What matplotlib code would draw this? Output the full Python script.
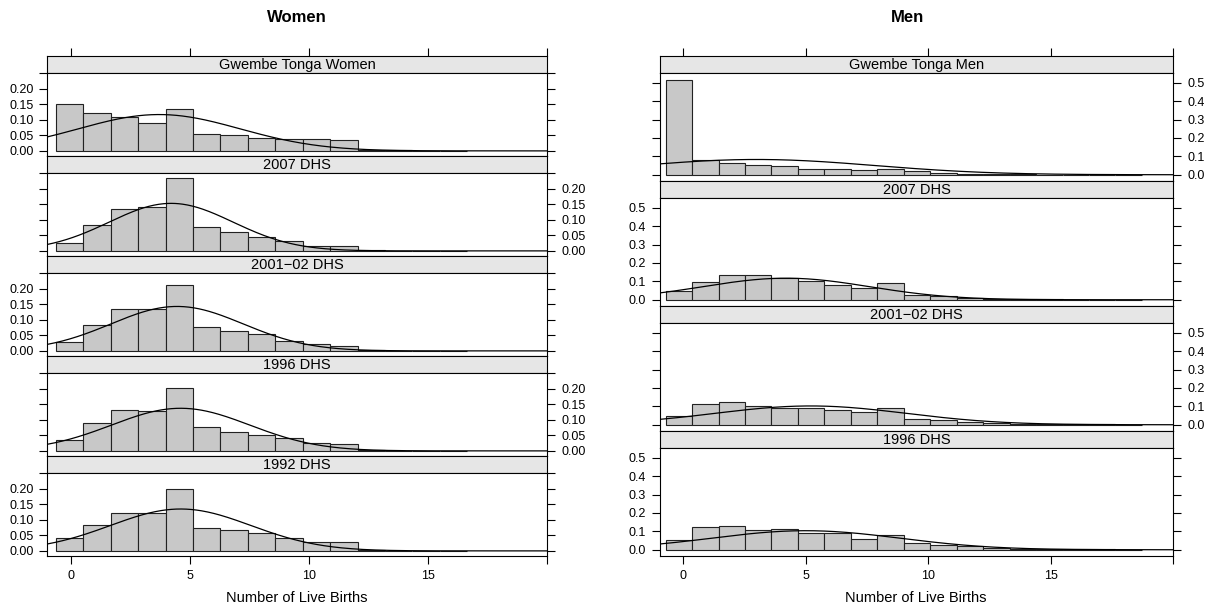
"""
Histograms of number of live births, women and men, with normal curves.
"""

import numpy as np
import matplotlib
matplotlib.use("Agg")
import matplotlib.pyplot as plt

# ----------------------------------------------------------------------
#     data (density per bin)
# ----------------------------------------------------------------------

women_labels = ["Gwembe Tonga Women", "2007 DHS", "2001\u221202 DHS", "1996 DHS", "1992 DHS"]
women_start = -0.64
women_width = 1.152
women_gwembe = [0.150, 0.123, 0.111, 0.090, 0.134, 0.054, 0.050, 0.042, 0.038, 0.037, 0.035, 0.003, 0.002, 0.001, 0.001]
women_2007 = [0.026, 0.082, 0.134, 0.143, 0.235, 0.076, 0.061, 0.045, 0.032, 0.017, 0.015, 0.002, 0.001, 0.0005, 0.0005]
women_2001 = [0.030, 0.085, 0.135, 0.135, 0.213, 0.078, 0.063, 0.054, 0.033, 0.022, 0.016, 0.002, 0.001, 0.0005, 0.0005]
women_1996 = [0.034, 0.089, 0.131, 0.128, 0.202, 0.078, 0.060, 0.050, 0.041, 0.027, 0.021, 0.002, 0.001, 0.0005, 0.0005]
women_1992 = [0.041, 0.085, 0.121, 0.123, 0.201, 0.075, 0.068, 0.059, 0.040, 0.030, 0.030, 0.002, 0.001, 0.0005, 0.0005]
women_mean = [3.7, 4.2, 4.45, 4.6, 4.6]
women_sd = [3.4, 2.6, 2.78, 2.9, 2.95]

men_labels = ["Gwembe Tonga Men", "2007 DHS", "2001\u221202 DHS", "1996 DHS"]
men_start = -0.72
men_width = 1.08
men_gwembe = [0.513, 0.078, 0.065, 0.051, 0.045, 0.031, 0.032, 0.025, 0.032, 0.018, 0.008, 0.004, 0.003, 0.002, 0.001, 0.001, 0.001, 0.001]
men_2007 = [0.047, 0.096, 0.136, 0.133, 0.118, 0.100, 0.080, 0.062, 0.091, 0.025, 0.018, 0.010, 0.005, 0.003, 0.002, 0.001, 0.001, 0.0005]
men_2001 = [0.049, 0.113, 0.125, 0.104, 0.089, 0.089, 0.082, 0.067, 0.093, 0.031, 0.024, 0.016, 0.009, 0.005, 0.004, 0.003, 0.002, 0.001]
men_1996 = [0.053, 0.122, 0.127, 0.107, 0.111, 0.089, 0.091, 0.060, 0.082, 0.035, 0.025, 0.019, 0.011, 0.006, 0.004, 0.003, 0.002, 0.001]
men_mean = [3.0, 4.2, 5.2, 5.0]
men_sd = [4.8, 3.4, 3.9, 3.85]

x_ticks = [0, 5, 10, 15, 20]
x_ticklabels = ["0", "5", "10", "15", ""]
women_yticks = [0, 0.05, 0.10, 0.15, 0.20, 0.25]
women_yticklabels = ["0.00", "0.05", "0.10", "0.15", "0.20", ""]
men_yticks = [0, 0.1, 0.2, 0.3, 0.4, 0.5]
men_yticklabels = ["0.0", "0.1", "0.2", "0.3", "0.4", "0.5"]

W, H = 1211, 611
FILL = "#c8c8c8"
STRIP = "#e6e6e6"

plt.rcParams["font.family"] = ["Liberation Sans", "DejaVu Sans"]


def box(x0, y0, x1, y1):
    # pixel rectangle (top-left origin) -> figure fraction
    return [x0 / W, 1 - y1 / H, (x1 - x0) / W, (y1 - y0) / H]


def normal_pdf(x, m, s):
    return np.exp(-0.5 * ((x - m) / s) ** 2) / (s * np.sqrt(2 * np.pi))


def draw_column(fig, x0, x1, labels, series, means, sds, start, width,
                xlim, ylim, yticks, yticklabels, label_left_first):
    n = len(labels)
    top, bottom = 56.0, 556.0
    step = (bottom - top) / n
    strip_h = 17.3
    for i in range(n):
        st = top + i * step
        # ---- strip ----
        sax = fig.add_axes(box(x0, st, x1, st + strip_h))
        sax.set_facecolor(STRIP)
        sax.set_xlim(xlim)
        sax.set_ylim(0, 1)
        sax.set_yticks([])
        sax.text(0.5, 0.47, labels[i], transform=sax.transAxes, ha="center",
                 va="center", fontsize=10.5)
        for sp in sax.spines.values():
            sp.set_linewidth(0.8)
        if i == 0:
            sax.xaxis.set_ticks_position("top")
            sax.set_xticks(x_ticks)
            sax.tick_params(axis="x", direction="out", length=6, width=0.8,
                            labeltop=False, labelbottom=False)
        else:
            sax.set_xticks([])

        # ---- panel ----
        ax = fig.add_axes(box(x0, st + strip_h, x1, st + step))
        edges = start + width * np.arange(len(series[i]))
        ax.bar(edges, series[i], width=width, align="edge", color=FILL,
               edgecolor="#222222", linewidth=0.8)
        xs = np.linspace(xlim[0], xlim[1], 400)
        ax.plot(xs, normal_pdf(xs, means[i], sds[i]), color="black", lw=0.9)
        ax.set_xlim(xlim)
        ax.set_ylim(ylim)
        for sp in ax.spines.values():
            sp.set_linewidth(0.8)

        ax.set_yticks(yticks)
        ax.set_yticklabels(yticklabels)
        left_lab = (i % 2 == 0) == label_left_first
        ax.yaxis.set_ticks_position("both")
        ax.tick_params(axis="y", direction="out", length=6, width=0.8,
                       labelsize=9, pad=4, labelleft=left_lab,
                       labelright=not left_lab)

        if i == n - 1:
            ax.set_xticks(x_ticks)
            ax.set_xticklabels(x_ticklabels)
            ax.tick_params(axis="x", direction="out", length=6, width=0.8,
                           labelsize=9, pad=4)
        else:
            ax.set_xticks([])


def main():
    fig = plt.figure(figsize=(W / 100, H / 100), dpi=100)

    women = [women_gwembe, women_2007, women_2001, women_1996, women_1992]
    draw_column(fig, 47.3, 547.3, women_labels, women, women_mean, women_sd,
                women_start, women_width, (-1.0, 20.001), (-0.0165, 0.2505),
                women_yticks, women_yticklabels, True)

    men = [men_gwembe, men_2007, men_2001, men_1996]
    draw_column(fig, 659.7, 1173.3, men_labels, men, men_mean, men_sd,
                men_start, men_width, (-0.96, 20.001), (-0.034, 0.552),
                men_yticks, men_yticklabels, False)

    fig.text(297 / W, 1 - 17 / H, "Women", ha="center", va="center",
             fontsize=12, fontweight="bold")
    fig.text(907 / W, 1 - 17 / H, "Men", ha="center", va="center",
             fontsize=12, fontweight="bold")
    fig.text(297 / W, 1 - 598 / H, "Number of Live Births", ha="center",
             va="center", fontsize=10.5)
    fig.text(916 / W, 1 - 598 / H, "Number of Live Births", ha="center",
             va="center", fontsize=10.5)

    fig.savefig("out.png", dpi=100)


if __name__ == "__main__":
    main()
